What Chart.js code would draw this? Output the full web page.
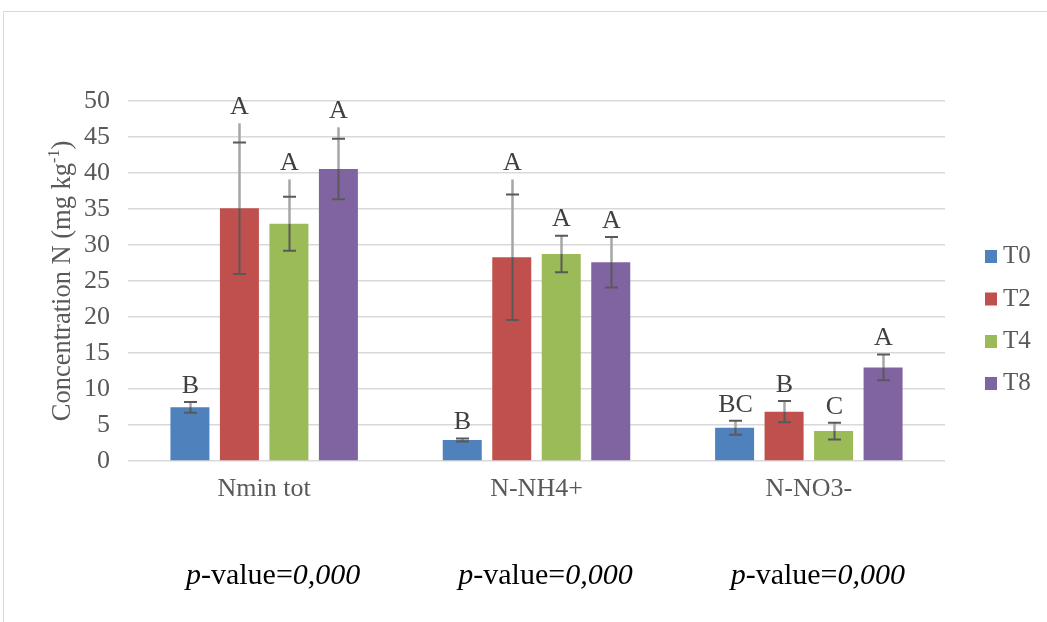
<!DOCTYPE html>
<html>
<head>
<meta charset="utf-8">
<script src="https://cdn.jsdelivr.net/npm/chart.js@4/dist/chart.umd.min.js"></script>
<style>
  html, body { margin: 0; padding: 0; background: #ffffff; }
  #wrap { position: relative; width: 1047px; height: 622px; }
</style>
</head>
<body>
<div id="wrap"><canvas id="chart" width="1047" height="622"></canvas></div>
<script>
// Mineral nitrogen fractions per sampling time
const categories = ['Nmin tot', 'N-NH4+', 'N-NO3-'];
const seriesNames = ['T0', 'T2', 'T4', 'T8'];
const seriesColors = ['#4f81bd', '#c0504d', '#9bbb59', '#8064a2'];

// Means (mg kg-1)
const valuesT0 = [7.46, 2.92, 4.63];
const valuesT2 = [35.1, 28.3, 6.85];
const valuesT4 = [32.96, 28.75, 4.16];
const valuesT8 = [40.55, 27.6, 13.0];

// Standard deviations (capped whiskers)
const sdT0 = [0.75, 0.2, 0.97];
const sdT2 = [9.13, 8.7, 1.48];
const sdT4 = [3.75, 2.55, 1.16];
const sdT8 = [4.2, 3.5, 1.78];

// Upper whisker reach above the mean
const plusT0 = [0.75, 0.2, 0.97];
const plusT2 = [11.8, 10.8, 1.48];
const plusT4 = [6.15, 2.55, 1.16];
const plusT8 = [5.8, 3.5, 1.78];

// Significance letters
const lettersT0 = ['B', 'B', 'BC'];
const lettersT2 = ['A', 'A', 'B'];
const lettersT4 = ['A', 'A', 'C'];
const lettersT8 = ['A', 'A', 'A'];

// p-values under each group
const pValues = ['0,000', '0,000', '0,000'];

// Y axis ticks
const yMin = 0, yMax = 50, yStep = 5;

const allValues = [valuesT0, valuesT2, valuesT4, valuesT8];
const allSd = [sdT0, sdT2, sdT4, sdT8];
const allPlus = [plusT0, plusT2, plusT4, plusT8];
const allLetters = [lettersT0, lettersT2, lettersT4, lettersT8];

const SERIF = '"Liberation Serif", "Times New Roman", serif';
const FS = 26;

const frame = {
  id: 'frame',
  beforeDraw(chart) {
    const ctx = chart.ctx;
    ctx.save();
    ctx.strokeStyle = '#d9d9d9';
    ctx.lineWidth = 1;
    ctx.beginPath();
    ctx.moveTo(3.5, 700);
    ctx.lineTo(3.5, 11.5);
    ctx.lineTo(1100, 11.5);
    ctx.stroke();
    ctx.restore();
  }
};

const errorBars = {
  id: 'errorBars',
  afterDatasetsDraw(chart) {
    const ctx = chart.ctx;
    const y = chart.scales.y;
    ctx.save();
    chart.data.datasets.forEach((ds, di) => {
      const meta = chart.getDatasetMeta(di);
      meta.data.forEach((bar, i) => {
        const v = allValues[di][i];
        const sd = allSd[di][i];
        const plus = allPlus[di][i];
        const x = Math.round(bar.x) + 0.5;
        const yMean = y.getPixelForValue(v);
        const yHi = y.getPixelForValue(v + sd);
        const yLo = y.getPixelForValue(v - sd);
        const yTop = y.getPixelForValue(v + plus);
        // upper stem
        ctx.strokeStyle = '#a6a6a6';
        ctx.lineWidth = 2.5;
        ctx.beginPath(); ctx.moveTo(x, yMean); ctx.lineTo(x, yTop); ctx.stroke();
        // lower stem
        ctx.strokeStyle = '#595959';
        ctx.lineWidth = 2;
        ctx.beginPath(); ctx.moveTo(x, yMean); ctx.lineTo(x, yLo); ctx.stroke();
        // caps
        ctx.beginPath();
        ctx.moveTo(x - 6.5, yHi); ctx.lineTo(x + 6.5, yHi);
        ctx.moveTo(x - 6.5, yLo); ctx.lineTo(x + 6.5, yLo);
        ctx.stroke();
        // letter
        ctx.fillStyle = '#404040';
        ctx.font = FS + 'px ' + SERIF;
        ctx.textAlign = 'center';
        ctx.textBaseline = 'middle';
        ctx.fillText(allLetters[di][i], x, Math.min(yTop, yHi) - 16);
      });
    });
    ctx.restore();
  }
};

const extras = {
  id: 'extras',
  afterDraw(chart) {
    const ctx = chart.ctx;
    const xs = chart.scales.x;
    const area = chart.chartArea;
    ctx.save();

    // y axis title with superscript
    const TF = 26.5;
    const main = 'Concentration N (mg kg';
    const sup = '-1';
    const tail = ')';
    ctx.translate(63, (area.top + area.bottom) / 2);
    ctx.rotate(-Math.PI / 2);
    ctx.fillStyle = '#595959';
    ctx.textBaseline = 'middle';
    ctx.textAlign = 'left';
    ctx.font = TF + 'px ' + SERIF;
    const wMain = ctx.measureText(main).width;
    const wTail = ctx.measureText(tail).width;
    ctx.font = Math.round(TF * 0.62) + 'px ' + SERIF;
    const wSup = ctx.measureText(sup).width;
    let cx = -(wMain + wSup + wTail) / 2;
    ctx.font = TF + 'px ' + SERIF;
    ctx.fillText(main, cx, 0);
    cx += wMain;
    ctx.font = Math.round(TF * 0.62) + 'px ' + SERIF;
    ctx.fillText(sup, cx, -TF * 0.3);
    cx += wSup;
    ctx.font = TF + 'px ' + SERIF;
    ctx.fillText(tail, cx, 0);
    ctx.setTransform(1, 0, 0, 1, 0, 0);

    // legend
    const legendY = [256.5, 299, 341.5, 383.5];
    seriesNames.forEach((name, i) => {
      ctx.fillStyle = seriesColors[i];
      ctx.fillRect(985, legendY[i] - 6.5, 12, 13);
      ctx.fillStyle = '#595959';
      ctx.font = '25px ' + SERIF;
      ctx.textAlign = 'left';
      ctx.textBaseline = 'middle';
      ctx.fillText(name, 1003, legendY[i]);
    });

    // p-values
    const PF = 30;
    categories.forEach((c, i) => {
      const cxp = xs.getPixelForValue(i) + 9;
      const parts = [
        { t: 'p', f: 'italic ' + PF + 'px ' + SERIF },
        { t: '-value=', f: PF + 'px ' + SERIF },
        { t: pValues[i], f: 'italic ' + PF + 'px ' + SERIF }
      ];
      let total = 0;
      parts.forEach(p => { ctx.font = p.f; p.w = ctx.measureText(p.t).width; total += p.w; });
      let px = cxp - total / 2;
      ctx.fillStyle = '#000000';
      ctx.textAlign = 'left';
      ctx.textBaseline = 'middle';
      parts.forEach(p => { ctx.font = p.f; ctx.fillText(p.t, px, 576); px += p.w; });
    });
    ctx.restore();
  }
};

new Chart(document.getElementById('chart'), {
  type: 'bar',
  data: {
    labels: categories,
    datasets: seriesNames.map((name, i) => ({
      label: name,
      data: allValues[i],
      backgroundColor: seriesColors[i],
      borderWidth: 0,
      categoryPercentage: 0.727,
      barPercentage: 0.788
    }))
  },
  options: {
    responsive: false,
    animation: false,
    devicePixelRatio: 1,
    layout: { padding: { top: 101, right: 102, bottom: 0, left: 0 } },
    plugins: { legend: { display: false }, tooltip: { enabled: false } },
    scales: {
      x: {
        grid: { display: false, drawTicks: false },
        border: { display: false },
        ticks: { color: '#595959', font: { family: SERIF, size: FS }, padding: 13, maxRotation: 0 },
        afterFit(s) { s.height = 161; }
      },
      y: {
        min: yMin, max: yMax,
        grid: { color: '#d9d9d9', lineWidth: 1.5, drawTicks: false },
        border: { display: false },
        ticks: { stepSize: yStep, color: '#595959', font: { family: SERIF, size: FS }, padding: 18 },
        afterFit(s) { s.width = 128; }
      }
    }
  },
  plugins: [frame, errorBars, extras]
});
</script>
</body>
</html>
